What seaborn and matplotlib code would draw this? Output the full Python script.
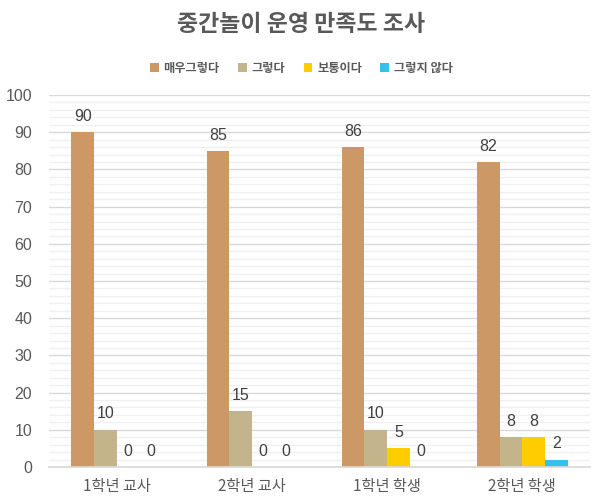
import matplotlib
matplotlib.use("Agg")
import matplotlib.pyplot as plt
import seaborn as sns
import pandas as pd
from matplotlib.ticker import MultipleLocator

categories = ["1학년 교사", "2학년 교사", "1학년 학생", "2학년 학생"]
series_names = ["매우그렇다", "그렇다", "보통이다", "그렇지 않다"]
very_yes = [90, 85, 86, 82]
yes = [10, 15, 10, 8]
neutral = [0, 0, 5, 8]
no = [0, 0, 0, 2]
colors = ["#CC9966", "#C4B48C", "#FFCC00", "#33C3EA"]

rows = []
for name, vals in zip(series_names, [very_yes, yes, neutral, no]):
    for c, v in zip(categories, vals):
        rows.append({"group": c, "series": name, "value": v})
df = pd.DataFrame(rows)

sns.set_theme(style="white")
plt.rcParams['font.family'] = ['Noto Sans CJK KR', 'DejaVu Sans']

fig = plt.figure(figsize=(6.03, 5.04), dpi=100)
ax = fig.add_axes([0.0813, 0.0734, 0.897, 0.738])

sns.barplot(data=df, x="group", y="value", hue="series", order=categories,
            hue_order=series_names, palette=colors, width=0.67, ax=ax,
            saturation=1, legend=True, errorbar=None, linewidth=0)

ax.set_ylim(0, 100)
ax.set_xlim(-0.5, 3.5)
ax.yaxis.set_major_locator(MultipleLocator(10))
ax.yaxis.set_minor_locator(MultipleLocator(2))
ax.grid(axis='y', which='major', color='#D9D9D9', linewidth=1)
ax.grid(axis='y', which='minor', color='#F0F0F0', linewidth=1)
ax.set_axisbelow(True)
for s in ["top", "right", "left"]:
    ax.spines[s].set_visible(False)
ax.spines["bottom"].set_color("#D9D9D9")
ax.tick_params(axis='both', length=0)
ax.set_xlabel("")
ax.set_ylabel("")
for lab in ax.get_yticklabels():
    lab.set_fontfamily(['Liberation Sans', 'DejaVu Sans'])
    lab.set_fontsize(11.5)
    lab.set_color('#595959')
ax.tick_params(axis='y', pad=12)
for lab in ax.get_xticklabels():
    lab.set_fontfamily(['Noto Sans CJK KR', 'DejaVu Sans'])
    lab.set_fontsize(11)
    lab.set_color('#595959')
ax.tick_params(axis='x', pad=8)

for cont in ax.containers:
    ax.bar_label(cont, fmt="%g", padding=6, fontsize=11.5, color='#404040',
                 family=['Liberation Sans', 'DejaVu Sans'])

leg = ax.get_legend()
if leg is not None:
    leg.remove()
handles, labels = ax.get_legend_handles_labels()
fig.legend(handles[:4], labels[:4], loc='center', bbox_to_anchor=(0.5, 0.865),
           ncol=4, frameon=False, handlelength=0.7, handleheight=0.7,
           handletextpad=0.4, columnspacing=1.5,
           prop={'family': ['Noto Sans CJK KR', 'DejaVu Sans'], 'size': 8.8, 'weight': 'bold'},
           labelcolor='#595959')

fig.text(0.5, 0.952, "중간놀이 운영 만족도 조사", ha='center', va='center',
         fontsize=16.5, fontweight='bold', color='#595959',
         family=['Noto Sans CJK KR', 'DejaVu Sans'])

fig.savefig("out.png", dpi=100)
